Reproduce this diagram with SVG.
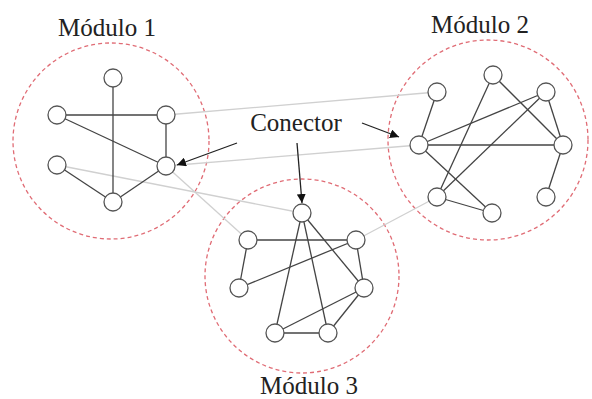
<svg xmlns="http://www.w3.org/2000/svg" width="592" height="399" viewBox="0 0 592 399">
<style>
.mod{fill:none;stroke:#e06c75;stroke-width:1.3;stroke-dasharray:4 3}
.n{fill:#fff;stroke:#555;stroke-width:1.3}
.e{stroke:#444;stroke-width:1.3;fill:none}
.g{stroke:#d0d0d0;stroke-width:1.3;fill:none}
.a{stroke:#222;stroke-width:1.3;fill:none}
.t{font-family:"Liberation Serif","Times New Roman",serif;font-size:25px;fill:#222;text-anchor:middle}
</style>
<defs>
<marker id="ah" viewBox="0 0 10 10" refX="10" refY="5" markerWidth="9" markerHeight="9" markerUnits="userSpaceOnUse" orient="auto">
<path d="M0,0 L10,5 L0,10 z" fill="#111"/>
</marker>
</defs>
<rect width="592" height="399" fill="#fff"/>
<g id="modules">
<circle class="mod" cx="111" cy="141" r="98"/>
<circle class="mod" cx="488" cy="140" r="100"/>
<circle class="mod" cx="302" cy="276" r="97"/>
</g>
<g id="connectors">
<!-- inter-module -->
<line class="g" x1="166" y1="115" x2="437" y2="92"/>
<line class="g" x1="166" y1="166" x2="419" y2="145"/>
<line class="g" x1="57" y1="165" x2="302" y2="213"/>
<line class="g" x1="166" y1="166" x2="248" y2="240"/>
<line class="g" x1="356" y1="240" x2="437" y2="197"/>
<!-- module 1 -->
<line class="e" x1="113" y1="78" x2="113" y2="202"/>
<line class="e" x1="57" y1="115" x2="166" y2="115"/>
<line class="e" x1="57" y1="115" x2="166" y2="166"/>
<line class="e" x1="166" y1="115" x2="166" y2="166"/>
<line class="e" x1="57" y1="165" x2="113" y2="202"/>
<line class="e" x1="113" y1="202" x2="166" y2="166"/>
<!-- module 2 -->
<line class="e" x1="437" y1="92" x2="419" y2="145"/>
<line class="e" x1="419" y1="145" x2="563" y2="145"/>
<line class="e" x1="419" y1="145" x2="546" y2="92"/>
<line class="e" x1="419" y1="145" x2="492" y2="213"/>
<line class="e" x1="493" y1="75" x2="437" y2="197"/>
<line class="e" x1="493" y1="75" x2="563" y2="145"/>
<line class="e" x1="546" y1="92" x2="437" y2="197"/>
<line class="e" x1="546" y1="92" x2="563" y2="145"/>
<line class="e" x1="563" y1="145" x2="546" y2="197"/>
<line class="e" x1="437" y1="197" x2="492" y2="213"/>
<!-- module 3 -->
<line class="e" x1="248" y1="240" x2="356" y2="240"/>
<line class="e" x1="248" y1="240" x2="239" y2="288"/>
<line class="e" x1="239" y1="288" x2="356" y2="240"/>
<line class="e" x1="356" y1="240" x2="364" y2="288"/>
<line class="e" x1="302" y1="213" x2="275" y2="333"/>
<line class="e" x1="302" y1="213" x2="328" y2="333"/>
<line class="e" x1="302" y1="213" x2="364" y2="288"/>
<line class="e" x1="364" y1="288" x2="275" y2="333"/>
<line class="e" x1="364" y1="288" x2="328" y2="333"/>
<line class="e" x1="275" y1="333" x2="328" y2="333"/>
<!-- annotation arrows -->
<line class="a" x1="237" y1="143" x2="177" y2="165" marker-end="url(#ah)"/>
<line class="a" x1="362" y1="123" x2="399" y2="137" marker-end="url(#ah)"/>
<line class="a" x1="297" y1="143" x2="302" y2="203" marker-end="url(#ah)"/>
</g>
<g id="m1n1"><circle class="n" cx="113" cy="78" r="9"/></g>
<g id="m1n2"><circle class="n" cx="57" cy="115" r="9"/></g>
<g id="m1n3"><circle class="n" cx="166" cy="115" r="9"/></g>
<g id="m1n4"><circle class="n" cx="57" cy="165" r="9"/></g>
<g id="m1n5"><circle class="n" cx="166" cy="166" r="9"/></g>
<g id="m1n6"><circle class="n" cx="113" cy="202" r="9"/></g>
<g id="m2n1"><circle class="n" cx="493" cy="75" r="9"/></g>
<g id="m2n2"><circle class="n" cx="437" cy="92" r="9"/></g>
<g id="m2n3"><circle class="n" cx="546" cy="92" r="9"/></g>
<g id="m2n4"><circle class="n" cx="419" cy="145" r="9"/></g>
<g id="m2n5"><circle class="n" cx="563" cy="145" r="9"/></g>
<g id="m2n6"><circle class="n" cx="437" cy="197" r="9"/></g>
<g id="m2n7"><circle class="n" cx="492" cy="213" r="9"/></g>
<g id="m2n8"><circle class="n" cx="546" cy="197" r="9"/></g>
<g id="m3n1"><circle class="n" cx="302" cy="213" r="9"/></g>
<g id="m3n2"><circle class="n" cx="248" cy="240" r="9"/></g>
<g id="m3n3"><circle class="n" cx="356" cy="240" r="9"/></g>
<g id="m3n4"><circle class="n" cx="239" cy="288" r="9"/></g>
<g id="m3n5"><circle class="n" cx="364" cy="288" r="9"/></g>
<g id="m3n6"><circle class="n" cx="275" cy="333" r="9"/></g>
<g id="m3n7"><circle class="n" cx="328" cy="333" r="9"/></g>
<g id="labels">
<text class="t" x="107" y="36">Módulo 1</text>
<text class="t" x="480" y="33">Módulo 2</text>
<text class="t" x="309" y="394">Módulo 3</text>
<text class="t" x="296" y="131">Conector</text>
</g>
</svg>
